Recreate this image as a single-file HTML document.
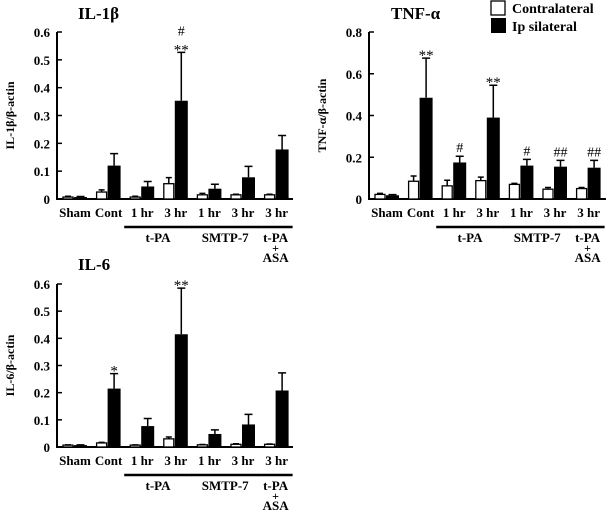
<!DOCTYPE html>
<html><head><meta charset="utf-8"><style>
html,body{margin:0;padding:0;background:#fff;}
svg{display:block;font-family:"Liberation Serif",serif;font-weight:bold;}
</style></head><body>
<svg id="c" width="606" height="512" viewBox="0 0 606 512"></svg>
<script>
const categories = ["Sham","Cont","1 hr","3 hr","1 hr","3 hr","3 hr"];
const il1Contra = [0.007,0.025,0.007,0.055,0.015,0.015,0.015];
const il1ContraErr = [0.003,0.008,0.003,0.022,0.005,0.002,0.002];
const il1Ipsi = [0.007,0.12,0.045,0.353,0.037,0.078,0.178];
const il1IpsiErr = [0.002,0.043,0.018,0.174,0.016,0.039,0.05];
const il1Marks = ["","","","#\n**","","",""];
const tnfContra = [0.022,0.085,0.063,0.088,0.07,0.047,0.05];
const tnfContraErr = [0.005,0.025,0.027,0.017,0.005,0.008,0.005];
const tnfIpsi = [0.018,0.485,0.175,0.39,0.16,0.155,0.15];
const tnfIpsiErr = [0.003,0.19,0.03,0.155,0.03,0.03,0.035];
const tnfMarks = ["","**","#","**","#","##","##"];
const il6Contra = [0.007,0.015,0.007,0.03,0.008,0.01,0.01];
const il6ContraErr = [0.001,0.002,0.001,0.007,0.001,0.002,0.001];
const il6Ipsi = [0.007,0.215,0.077,0.415,0.048,0.083,0.208];
const il6IpsiErr = [0.001,0.055,0.028,0.17,0.015,0.037,0.065];
const il6Marks = ["","*","","**","","",""];
const il1Ticks = [0,0.1,0.2,0.3,0.4,0.5,0.6];
const tnfTicks = [0,0.2,0.4,0.6,0.8];
const il6Ticks = [0,0.1,0.2,0.3,0.4,0.5,0.6];

const svg = document.getElementById('c');
const NS = "http://www.w3.org/2000/svg";
function mk(tag, attrs, parent, text){
  const e = document.createElementNS(NS, tag);
  for (const k in attrs) e.setAttribute(k, attrs[k]);
  if (text !== undefined) e.textContent = text;
  (parent||svg).appendChild(e);
  return e;
}
function fmt(v){ return v===0 ? "0" : v.toFixed(1); }

function panel(o){
  const g = mk('g', {});
  
  
  const y = v => o.y0 - v / o.max * (o.y0 - o.yTop);
  const gx = i => o.x0 + 6 + i * 33.6;
  // title
  const t = mk('text', {x:o.titleX, y:o.titleY, 'font-size':17}, g, o.title);
  
  
  // y axis title
  const yt = mk('text', {x:0, y:0, 'font-size':12, 'text-anchor':'middle',
    transform:`translate(${o.x0-43},${(o.y0+o.yTop)/2}) rotate(-90)`}, g, o.ytitle);
  
  
  // axes
  const ax = mk('path', {d:`M${o.x0},${o.yTop} V${o.y0} H${o.x1}`, stroke:'#000', 'stroke-width':2, fill:'none'}, g);
  
  
  o.ticks.forEach(v => {
    mk('line', {x1:o.x0, x2:o.x0+5, y1:y(v), y2:y(v), stroke:'#000','stroke-width':1.5}, g);
    const tl = mk('text', {x:o.x0-7, y:y(v)+5, 'font-size':13, 'text-anchor':'end'}, g, fmt(v));
    
    
  });
  categories.forEach((c, i) => {
    const x = gx(i);
    // contra bar
    const cb = mk('rect', {x:x, y:y(o.contra[i]), width:10, height:y(0)-y(o.contra[i]), fill:'#fff', stroke:'#000','stroke-width':1.3}, g);
    
    
    const ce = y(o.contra[i] + o.contraErr[i]);
    mk('path', {d:`M${x+5},${y(o.contra[i])} V${ce} M${x+2},${ce} H${x+8}`, stroke:'#000','stroke-width':1.5}, g);
    // ipsi bar
    const ix = x + 11;
    const ib = mk('rect', {x:ix, y:y(o.ipsi[i]), width:13, height:y(0)-y(o.ipsi[i]), fill:'#000'}, g);
    
    
    const ie = y(o.ipsi[i] + o.ipsiErr[i]);
    mk('path', {d:`M${ix+6.5},${y(o.ipsi[i])} V${ie} M${ix+2.5},${ie} H${ix+10.5}`, stroke:'#000','stroke-width':1.5}, g);
    if (o.marks[i]) {
      const lines = o.marks[i].split("\n");
      lines.forEach((ln, k) => {
        const isStar = ln.indexOf('*') >= 0;
        const m = mk('text', {x:ix+6.5, y:ie - 4 - (lines.length-1-k)*13 + (isStar?6:0), 'font-size':isStar?15:14, 'font-weight':'normal','text-anchor':'middle'}, g, ln);
        
        
      });
    }
    const cl = mk('text', {x:x+12, y:o.y0+18, 'font-size':13, 'text-anchor':'middle'}, g, c);
    
    
  });
  // group lines
  const ly = o.y0 + 28;
  const groups = [[2,3,"t-PA"],[4,5,"SMTP-7"],[6,6,"t-PA"]];
  groups.forEach(gr => {
    const a = gx(gr[0]) - 6, b = gx(gr[1]) + 28;
    const l = mk('line', {x1:a, x2:b, y1:ly, y2:ly, stroke:'#000','stroke-width':2.5}, g);
    
    
    const gl = mk('text', {x:(a+b)/2, y:ly+15, 'font-size':13, 'text-anchor':'middle'}, g, gr[2]);
    
    
  });
  const a6 = (gx(6)-6 + gx(6)+28)/2;
  mk('text', {x:a6, y:ly+25, 'font-size':12, 'text-anchor':'middle'}, g, "+");
  const asa = mk('text', {x:a6, y:ly+35, 'font-size':13, 'text-anchor':'middle'}, g, "ASA");
  
  
}

panel({name:'il1b', title:'IL-1β', titleX:78, titleY:19, ytitle:'IL-1β/β-actin',
  x0:57, x1:293, y0:199, yTop:32, max:0.6, ticks:il1Ticks,
  contra:il1Contra, contraErr:il1ContraErr, ipsi:il1Ipsi, ipsiErr:il1IpsiErr, marks:il1Marks});
panel({name:'tnfa', title:'TNF-α', titleX:391, titleY:19, ytitle:'TNF-α/β-actin',
  x0:369, x1:606, y0:199, yTop:32, max:0.8, ticks:tnfTicks,
  contra:tnfContra, contraErr:tnfContraErr, ipsi:tnfIpsi, ipsiErr:tnfIpsiErr, marks:tnfMarks});
panel({name:'il6', title:'IL-6', titleX:78, titleY:270, ytitle:'IL-6/β-actin',
  x0:57, x1:293, y0:447, yTop:284, max:0.6, ticks:il6Ticks,
  contra:il6Contra, contraErr:il6ContraErr, ipsi:il6Ipsi, ipsiErr:il6IpsiErr, marks:il6Marks});

// legend
const lg = mk('g', {});


const l1 = mk('rect', {x:491, y:1, width:14, height:14, fill:'#fff', stroke:'#000','stroke-width':1.3}, lg);


const t1 = mk('text', {x:512, y:13, 'font-size':14}, lg, 'Contralateral');


const l2 = mk('rect', {x:491, y:18, width:15, height:15, fill:'#000'}, lg);


const t2 = mk('text', {x:512, y:31, 'font-size':14}, lg, 'Ip silateral');


</script>
</body></html>
